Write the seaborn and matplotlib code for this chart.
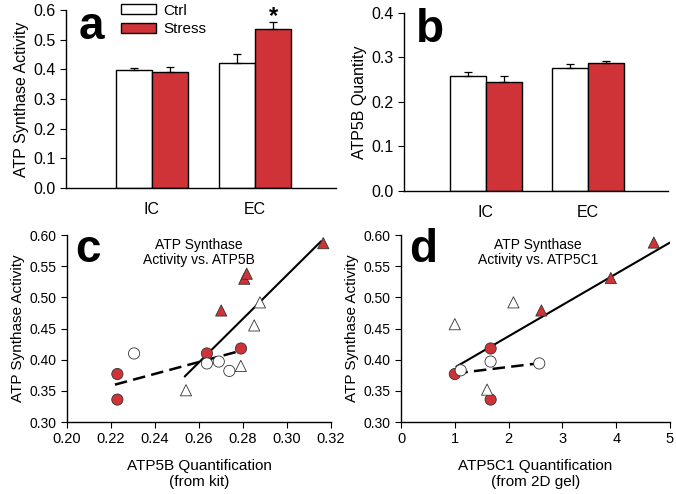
import matplotlib
matplotlib.use("Agg")
import matplotlib.pyplot as plt
import seaborn as sns
import pandas as pd

# ---- data ----
categories = ["IC", "EC"]
conditions = ["Ctrl", "Stress"]

# panel a: ATP synthase activity
act_ctrl = [0.397, 0.423]
act_stress = [0.390, 0.537]
act_ctrl_err = [0.007, 0.030]
act_stress_err = [0.017, 0.023]

# panel b: ATP5B quantity
qty_ctrl = [0.258, 0.276]
qty_stress = [0.246, 0.287]
qty_ctrl_err = [0.009, 0.009]
qty_stress_err = [0.013, 0.006]

# panel c: activity vs ATP5B (circles = IC, triangles = EC)
c_ic_stress_x = [0.2229, 0.2229, 0.2636, 0.2791]
c_ic_stress_y = [0.377, 0.336, 0.410, 0.418]
c_ic_ctrl_x = [0.2305, 0.2636, 0.2690, 0.2738]
c_ic_ctrl_y = [0.410, 0.394, 0.397, 0.382]
c_ec_stress_x = [0.2701, 0.2806, 0.2817, 0.3165]
c_ec_stress_y = [0.479, 0.530, 0.538, 0.587]
c_ec_ctrl_x = [0.2541, 0.2790, 0.2851, 0.2877]
c_ec_ctrl_y = [0.351, 0.390, 0.455, 0.492]
c_fit_solid_x = [0.2535, 0.3155]
c_fit_solid_y = [0.373, 0.590]
c_fit_dash_x = [0.2218, 0.2786]
c_fit_dash_y = [0.360, 0.414]

# panel d: activity vs ATP5C1
d_ic_stress_x = [1.00, 1.666, 1.666]
d_ic_stress_y = [0.377, 0.418, 0.336]
d_ic_ctrl_x = [1.11, 1.665, 2.57]
d_ic_ctrl_y = [0.383, 0.397, 0.394]
d_ec_stress_x = [2.61, 3.90, 4.70]
d_ec_stress_y = [0.479, 0.531, 0.588]
d_ec_ctrl_x = [1.00, 2.09, 1.60]
d_ec_ctrl_y = [0.457, 0.492, 0.352]
d_fit_solid_x = [1.03, 5.0]
d_fit_solid_y = [0.389, 0.588]
d_fit_dash_x = [1.01, 2.54]
d_fit_dash_y = [0.378, 0.394]

RED = "#cf3237"
palette = {"Ctrl": "white", "Stress": RED}

sns.set_style("ticks")
plt.rcParams["font.family"] = ["Liberation Sans", "DejaVu Sans"]
plt.rcParams["axes.linewidth"] = 1.0
plt.rcParams["xtick.major.size"] = 4
plt.rcParams["ytick.major.size"] = 4
for key in ["text.color", "axes.labelcolor", "xtick.color", "ytick.color",
            "axes.edgecolor"]:
    plt.rcParams[key] = "black"


def bar_panel(ax, ctrl, stress, ctrl_err, stress_err):
    df = pd.DataFrame({
        "cat": categories * 2,
        "cond": ["Ctrl"] * 2 + ["Stress"] * 2,
        "val": ctrl + stress,
    })
    sns.barplot(data=df, x="cat", y="val", hue="cond", order=categories,
                hue_order=conditions, palette=palette, saturation=1,
                edgecolor="black", linewidth=1.0, width=0.7, errorbar=None,
                ax=ax)
    for cont, vals, errs in zip(ax.containers, [ctrl, stress], [ctrl_err, stress_err]):
        xs = [b.get_x() + b.get_width() / 2 for b in cont]
        ax.errorbar(xs, vals, yerr=[[0] * len(errs), errs], fmt="none",
                    ecolor="black", elinewidth=0.9, capsize=3, capthick=0.9)
    ax.set_xlabel("")
    ax.tick_params(axis="x", length=0, labelsize=11.5, pad=10)
    ax.tick_params(axis="y", labelsize=11.5)
    sns.despine(ax=ax)


def scatter_panel(ax, groups, solid, dashed):
    rows = []
    for (xs, ys, region, cond) in groups:
        for x, y in zip(xs, ys):
            rows.append({"x": x, "y": y, "region": region, "cond": cond})
    df = pd.DataFrame(rows)
    sns.lineplot(x=solid[0], y=solid[1], color="black", lw=1.5, ax=ax)
    ln = sns.lineplot(x=dashed[0], y=dashed[1], color="black", lw=1.8, ax=ax)
    ln.lines[-1].set_dashes((5, 2.5))
    sns.scatterplot(data=df, x="x", y="y", hue="cond", style="region",
                    palette=palette, markers={"IC": "o", "EC": "^"},
                    s=65, edgecolor="#333333", linewidth=0.6, legend=False,
                    ax=ax, zorder=3)
    ax.set_ylim(0.30, 0.60)
    ax.set_yticks([0.30, 0.35, 0.40, 0.45, 0.50, 0.55, 0.60])
    ax.set_yticklabels([f"{v:.2f}" for v in ax.get_yticks()])
    ax.tick_params(labelsize=10.5)
    ax.tick_params(axis="y", labelsize=10)
    sns.despine(ax=ax)


fig = plt.figure(figsize=(6.76, 4.94), dpi=100)
ax_a = fig.add_axes([0.0976, 0.6194, 0.3994, 0.3603])
ax_b = fig.add_axes([0.5976, 0.6134, 0.3905, 0.3603])
ax_c = fig.add_axes([0.0991, 0.1457, 0.3905, 0.3785])
ax_d = fig.add_axes([0.5932, 0.1457, 0.3979, 0.3785])

# ---- a ----
bar_panel(ax_a, act_ctrl, act_stress, act_ctrl_err, act_stress_err)
ax_a.set_xlim(-0.835, 1.786)
ax_a.set_ylim(0, 0.6)
ax_a.set_yticks([0, 0.1, 0.2, 0.3, 0.4, 0.5, 0.6])
ax_a.set_yticklabels([f"{v:.1f}" for v in ax_a.get_yticks()])
ax_a.set_ylabel("ATP Synthase Activity", fontsize=11.5, labelpad=3)
handles, labels = ax_a.get_legend_handles_labels()
ax_a.legend(handles, labels, loc="upper left", bbox_to_anchor=(0.18, 1.07),
            frameon=False, fontsize=11, handlelength=2.3, handleheight=0.6,
            handletextpad=0.5, labelspacing=0.3, borderaxespad=0)
star_x = ax_a.containers[1][1].get_x() + ax_a.containers[1][1].get_width() / 2
ax_a.text(star_x, 0.577, "*", ha="center", va="center", fontsize=17,
          fontweight="bold")
ax_a.text(0.045, 1.03, "a", transform=ax_a.transAxes, fontsize=33,
          fontweight="bold", va="top", ha="left")

# ---- b ----
bar_panel(ax_b, qty_ctrl, qty_stress, qty_ctrl_err, qty_stress_err)
ax_b.get_legend().remove()
ax_b.set_xlim(-0.804, 1.784)
ax_b.set_ylim(0, 0.4)
ax_b.set_yticks([0, 0.1, 0.2, 0.3, 0.4])
ax_b.set_yticklabels([f"{v:.1f}" for v in ax_b.get_yticks()])
ax_b.set_ylabel("ATP5B Quantity", fontsize=11.5, labelpad=3)
ax_b.text(0.045, 1.03, "b", transform=ax_b.transAxes, fontsize=33,
          fontweight="bold", va="top", ha="left")

# ---- c ----
scatter_panel(ax_c,
              [(c_ic_stress_x, c_ic_stress_y, "IC", "Stress"),
               (c_ic_ctrl_x, c_ic_ctrl_y, "IC", "Ctrl"),
               (c_ec_stress_x, c_ec_stress_y, "EC", "Stress"),
               (c_ec_ctrl_x, c_ec_ctrl_y, "EC", "Ctrl")],
              (c_fit_solid_x, c_fit_solid_y), (c_fit_dash_x, c_fit_dash_y))
ax_c.set_xlim(0.20, 0.32)
ax_c.set_xticks([0.20, 0.22, 0.24, 0.26, 0.28, 0.30, 0.32])
ax_c.set_xticklabels([f"{v:.2f}" for v in ax_c.get_xticks()])
ax_c.set_xlabel("ATP5B Quantification\n(from kit)", fontsize=11, labelpad=9)
ax_c.set_ylabel("ATP Synthase Activity", fontsize=11, labelpad=3)
ax_c.text(0.5, 0.985, "ATP Synthase\nActivity vs. ATP5B", transform=ax_c.transAxes,
          ha="center", va="top", fontsize=10, linespacing=1.1)
ax_c.text(0.03, 1.04, "c", transform=ax_c.transAxes, fontsize=33,
          fontweight="bold", va="top", ha="left")

# ---- d ----
scatter_panel(ax_d,
              [(d_ic_stress_x, d_ic_stress_y, "IC", "Stress"),
               (d_ic_ctrl_x, d_ic_ctrl_y, "IC", "Ctrl"),
               (d_ec_stress_x, d_ec_stress_y, "EC", "Stress"),
               (d_ec_ctrl_x, d_ec_ctrl_y, "EC", "Ctrl")],
              (d_fit_solid_x, d_fit_solid_y), (d_fit_dash_x, d_fit_dash_y))
ax_d.set_xlim(0, 5)
ax_d.set_xticks([0, 1, 2, 3, 4, 5])
ax_d.set_xlabel("ATP5C1 Quantification\n(from 2D gel)", fontsize=11, labelpad=9)
ax_d.set_ylabel("ATP Synthase Activity", fontsize=11, labelpad=3)
ax_d.text(0.51, 0.985, "ATP Synthase\nActivity vs. ATP5C1", transform=ax_d.transAxes,
          ha="center", va="top", fontsize=10, linespacing=1.1)
ax_d.text(0.03, 1.04, "d", transform=ax_d.transAxes, fontsize=33,
          fontweight="bold", va="top", ha="left")

fig.savefig("out.png", dpi=100)
